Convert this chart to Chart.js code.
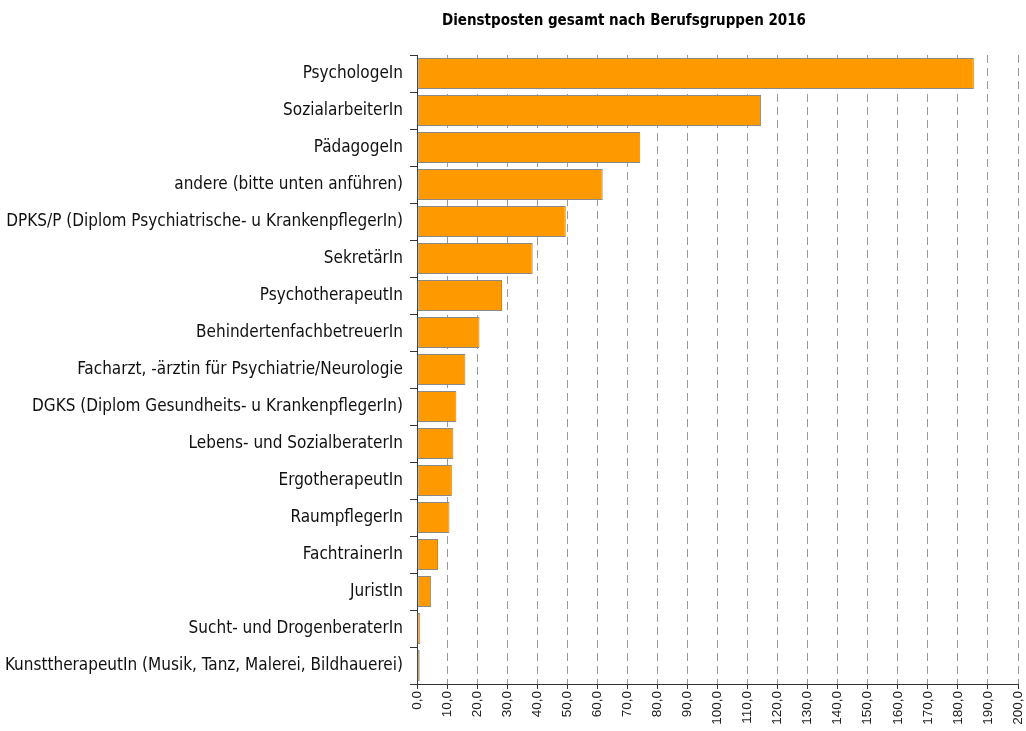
<!DOCTYPE html>
<html>
<head>
<meta charset="utf-8">
<script src="https://cdn.jsdelivr.net/npm/chart.js@4/dist/chart.umd.min.js"></script>
<style>
  html, body { margin: 0; padding: 0; background: #fff; }
  #wrap { width: 1026px; height: 731px; }
</style>
</head>
<body>
<div id="wrap"><canvas id="chart" width="1026" height="731"></canvas></div>
<script>
const title = "Dienstposten gesamt nach Berufsgruppen 2016"

const categories = [
    "PsychologeIn",
    "SozialarbeiterIn",
    "PädagogeIn",
    "andere (bitte unten anführen)",
    "DPKS/P (Diplom Psychiatrische- u KrankenpflegerIn)",
    "SekretärIn",
    "PsychotherapeutIn",
    "BehindertenfachbetreuerIn",
    "Facharzt, -ärztin für Psychiatrie/Neurologie",
    "DGKS (Diplom Gesundheits- u KrankenpflegerIn)",
    "Lebens- und SozialberaterIn",
    "ErgotherapeutIn",
    "RaumpflegerIn",
    "FachtrainerIn",
    "JuristIn",
    "Sucht- und DrogenberaterIn",
    "KunsttherapeutIn (Musik, Tanz, Malerei, Bildhauerei)"
]

const values = [185.3, 114.5, 74.3, 61.8, 49.5, 38.5, 28.3, 20.8, 16.1, 13.1, 12.1, 11.6, 10.8, 7.0, 4.7, 1.1, 0.9]

const xMin = 0
const xMax = 200
const xStep = 10

const narrow = "'Liberation Sans Narrow', 'DejaVu Sans Condensed', 'Roboto Condensed', sans-serif"

// title drawn a bit left of the plot centre, like the original
const titlePlugin = {
    id: "titleText",
    afterDraw(chart) {
        const ctx = chart.ctx
        ctx.save()
        ctx.font = "bold 15px " + narrow
        ctx.fillStyle = "#000"
        ctx.textAlign = "center"
        ctx.textBaseline = "middle"
        ctx.fillText(title, 624, 21)
        ctx.restore()
    }
}

new Chart(document.getElementById("chart"), {
    type: "bar",
    data: {
        labels: categories,
        datasets: [{
            data: values,
            backgroundColor: "#FF9900",
            borderColor: "#8a8a8a",
            borderWidth: 1,
            borderSkipped: false,
            barPercentage: 0.84,
            categoryPercentage: 1
        }]
    },
    options: {
        indexAxis: "y",
        responsive: false,
        animation: false,
        layout: { padding: { top: 55, right: 0, left: 0, bottom: 0 } },
        plugins: {
            legend: { display: false },
            tooltip: { enabled: false }
        },
        scales: {
            x: {
                min: xMin,
                max: xMax,
                afterFit(scale) {
                    scale.height = 47
                    scale.paddingLeft = 0
                    scale.paddingRight = 8
                },
                ticks: {
                    stepSize: xStep,
                    minRotation: 90,
                    maxRotation: 90,
                    padding: 2,
                    color: "#222",
                    font: { family: "'Liberation Sans', Arial, sans-serif", size: 13.5 },
                    callback: (v) => v.toFixed(1).replace(".", ",")
                },
                grid: {
                    color: "#9a9a9a",
                    lineWidth: 1,
                    tickLength: 5,
                    tickColor: "#333"
                },
                border: { display: true, color: "#333", width: 1, dash: [8, 5] }
            },
            y: {
                afterFit(scale) { scale.width = 417 },
                ticks: {
                    padding: 7,
                    color: "#111",
                    font: { family: narrow, size: 17 }
                },
                grid: {
                    drawOnChartArea: false,
                    tickLength: 7,
                    tickColor: "#333"
                },
                border: { display: true, color: "#333", width: 1 }
            }
        }
    },
    plugins: [titlePlugin]
})
</script>
</body>
</html>
